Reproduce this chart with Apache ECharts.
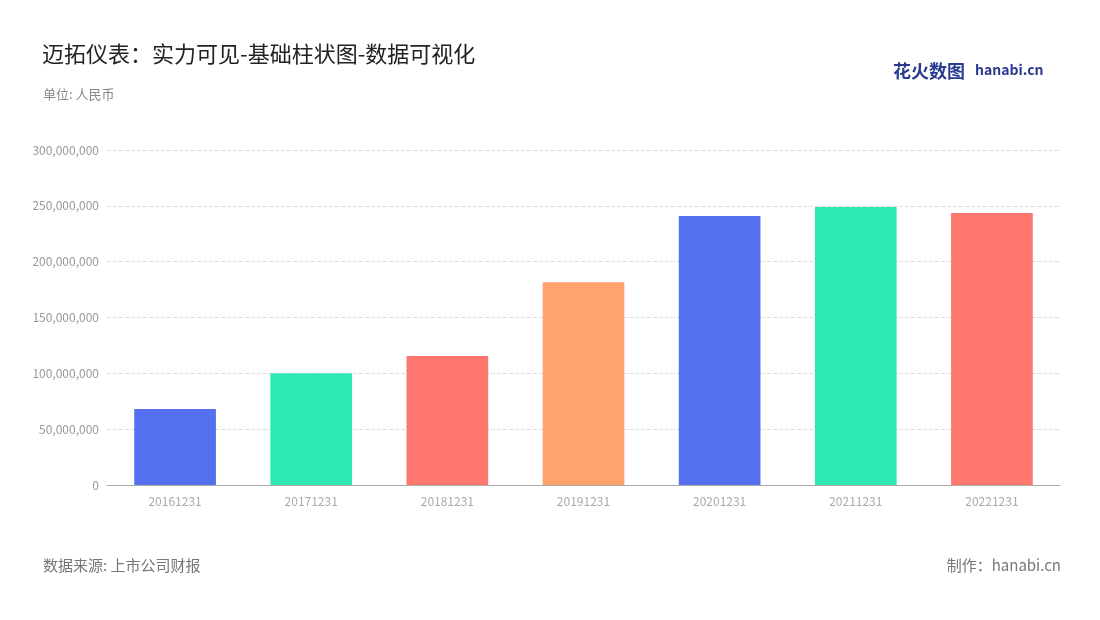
<!DOCTYPE html>
<html><head><meta charset="utf-8">
<script src="https://cdn.jsdelivr.net/npm/echarts@6/dist/echarts.min.js"></script>
<style>html,body{margin:0;padding:0;background:#fff}#c{width:1100px;height:620px}</style>
</head><body><div id="c"></div>
<script>
const categories = ['20161231','20171231','20181231','20191231','20201231','20211231','20221231'];
const values = [68000000, 100000000, 115500000, 181500000, 241000000, 249000000, 243500000];
const colors = ['#5470ee','#2de8b0','#ff766f','#ffa26e','#5470ee','#2de8b0','#ff766f'];
const chart = echarts.init(document.getElementById('c'));
const font = '"Noto Sans CJK SC","Noto Sans",sans-serif';
chart.setOption({
  textStyle:{fontFamily:font},
  title:[
    {text:'迈拓仪表：实力可见-基础柱状图-数据可视化',left:37,top:38,textStyle:{fontSize:22,fontWeight:'normal',color:'#222',fontFamily:font}},
    {text:'单位: 人民币',left:38,top:83,textStyle:{fontSize:13,fontWeight:'normal',color:'#888',fontFamily:font}},
    {text:'数据来源: 上市公司财报',left:38,top:553,textStyle:{fontSize:15,fontWeight:'normal',color:'#777',fontFamily:font}},
    {text:'制作：hanabi.cn',right:34,top:553,textStyle:{fontSize:15,fontWeight:'normal',color:'#777',fontFamily:font}},
    {text:'花火数图',left:888,top:57,textStyle:{fontSize:18,fontWeight:'bold',color:'#2a3b8f',fontFamily:font}},
    {text:'hanabi.cn',left:970,top:58,textStyle:{fontSize:14,fontWeight:'bold',color:'#2a3b8f',fontFamily:font}}
  ],
  grid:{left:107,right:40,top:150,bottom:135},
  xAxis:{type:'category',data:categories,
    axisLine:{lineStyle:{color:'#aaa'}},axisTick:{show:false},
    axisLabel:{color:'#aaa',fontSize:12,margin:10}},
  yAxis:{type:'value',min:0,max:300000000,interval:50000000,
    axisLabel:{color:'#999',fontSize:12,formatter:v=>v.toLocaleString('en-US')},
    splitLine:{lineStyle:{type:'dashed',color:'#ddd'}},
    axisLine:{show:false},axisTick:{show:false}},
  series:[{type:'bar',barWidth:'60%',
    data:values.map((v,i)=>({value:v,itemStyle:{color:colors[i]}}))}]
});
</script></body></html>
